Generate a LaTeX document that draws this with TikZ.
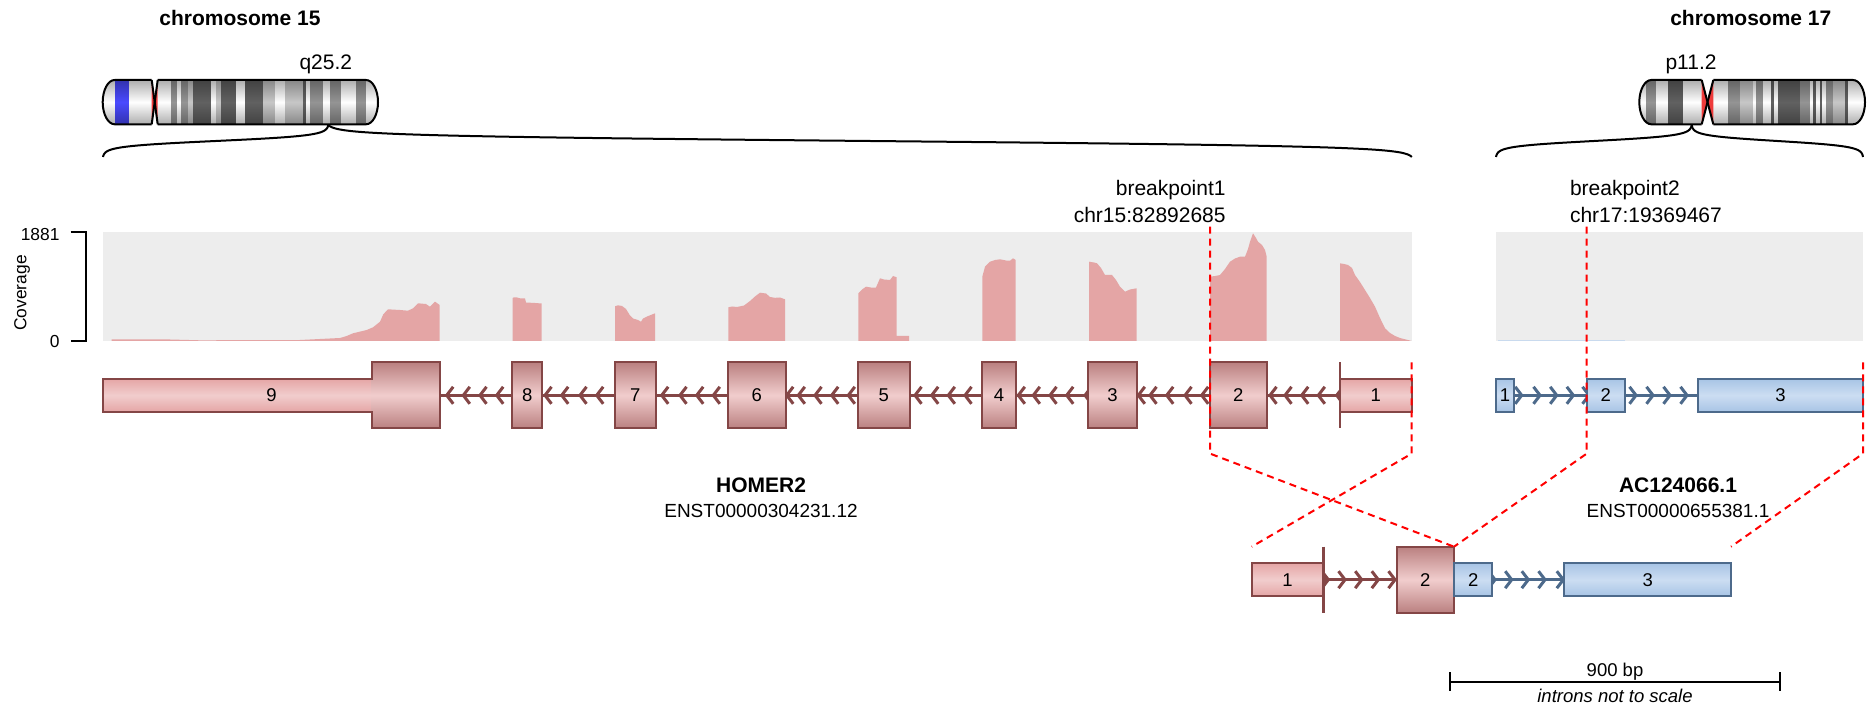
\documentclass[tikz,border=0pt]{standalone}
\usepackage{fontspec}
\setmainfont{Liberation Sans}
\usetikzlibrary{shadings}

\definecolor{pinkbase}{HTML}{E5A5A5}
\definecolor{pinkbright}{HTML}{F1CDCD}
\definecolor{pinkdark}{HTML}{BA8080}
\definecolor{pinkline}{HTML}{844646}
\definecolor{bluebase}{HTML}{A7C4E5}
\definecolor{bluebright}{HTML}{CCDDF2}
\definecolor{blueline}{HTML}{4D6A8B}
\definecolor{covpink}{HTML}{E4A5A5}
\definecolor{covblue}{HTML}{C9DAEE}
\definecolor{panelgray}{HTML}{EDEDED}
\definecolor{gneg}{gray}{1}
\definecolor{gposA}{gray}{0.78}
\definecolor{gposB}{gray}{0.58}
\definecolor{gposC}{gray}{0.38}
\definecolor{stalk}{HTML}{4A4AFF}
\definecolor{acen}{HTML}{EE3B3B}

\newcommand{\mainsize}{\fontsize{10.5}{12.6}\selectfont}
\newcommand{\smallsize}{\fontsize{9.25}{11}\selectfont}
\newcommand{\idsize}{\fontsize{9.5}{11.4}\selectfont}
\newcommand{\axissize}{\fontsize{8.7}{10.4}\selectfont}

% one cytoband between x=#1 and x=#2, darker towards the upper and lower edge
\newcommand{\cband}[3]{\shade[top color=#3!68!black, bottom color=#3!68!black, middle color=#3] (#1,80) rectangle (#2,124.3);}

% half of a curly brace: sigmoid from the tip under the ideogram to the end of the window
\newcommand{\halfbrace}[2]{\draw[braceline] plot[domain=-2.5:2.5, samples=51, smooth] ({#1+(#2-#1)*(1/(1+exp(-2.407*\x))-0.0024)/0.9952}, {141+6.4*\x});}

% intron chevrons (colour, tip x, centre y)
\newcommand{\chevL}[3]{\draw[chev,#1] (#2+6.5,#3-8.5) -- (#2,#3) -- (#2+6.5,#3+8.5);}
\newcommand{\chevR}[3]{\draw[chev,#1] (#2-6.5,#3-8.5) -- (#2,#3) -- (#2-6.5,#3+8.5);}

% exon box as a node: name, style, left x, right x, centre y, number
\newcommand{\exon}[6]{%
  \pgfmathsetmacro{\exonmid}{(#3+#4)/2}%
  \pgfmathsetmacro{\exonwd}{(#4-#3)*0.5}%
  \node[#2, minimum width=\exonwd pt] (#1) at (\exonmid,#5) {#6};}

% centromere bow-tie between x=#1 and x=#2
\newcommand{\centromere}[2]{%
  \fill[acen] (#1,80) -- ({(#1+#2)/2},102.15) -- (#2,80) -- (#2,124.3) -- ({(#1+#2)/2},102.15) -- (#1,124.3) -- cycle;
  \draw[outline] (#1,80) -- ({(#1+#2)/2},102.15) -- (#1,124.3);
  \draw[outline] (#2,80) -- ({(#1+#2)/2},102.15) -- (#2,124.3);}

% ideogram arm outlines, open at the centromere side
\newcommand{\chrApArm}{(151.7,80) -- (114.7,80) .. controls (108.07,80) and (102.7,89.92) .. (102.7,102.15) .. controls (102.7,114.38) and (108.07,124.3) .. (114.7,124.3) -- (151.7,124.3)}
\newcommand{\chrAqArm}{(157.7,80) -- (366,80) .. controls (372.63,80) and (378,89.92) .. (378,102.15) .. controls (378,114.38) and (372.63,124.3) .. (366,124.3) -- (157.7,124.3)}
\newcommand{\chrBpArm}{(1701.7,80) -- (1651.3,80) .. controls (1644.67,80) and (1639.3,89.92) .. (1639.3,102.15) .. controls (1639.3,114.38) and (1644.67,124.3) .. (1651.3,124.3) -- (1701.7,124.3)}
\newcommand{\chrBqArm}{(1713.3,80) -- (1853,80) .. controls (1859.63,80) and (1865,89.92) .. (1865,102.15) .. controls (1865,114.38) and (1859.63,124.3) .. (1853,124.3) -- (1713.3,124.3)}

\pgfdeclarelayer{back}
\pgfsetlayers{back,main}

\begin{document}
\begin{tikzpicture}[x=0.5pt, y=-0.5pt,
  lbl/.style={inner sep=0pt, outer sep=0pt, font=\mainsize},
  axlbl/.style={inner sep=0pt, outer sep=0pt, font=\axissize},
  sclbl/.style={inner sep=0pt, outer sep=0pt, font=\smallsize},
  exbase/.style={rectangle, inner sep=0pt, outer sep=0pt, line width=1pt, font=\smallsize, text=black},
  pcds/.style={exbase, draw=pinkline, top color=pinkdark, bottom color=pinkdark, middle color=pinkbright, minimum height=33pt},
  putr/.style={exbase, draw=pinkline, top color=pinkbase, bottom color=pinkbase, middle color=pinkbright, minimum height=16.7pt},
  butr/.style={exbase, draw=blueline, top color=bluebase, bottom color=bluebase, middle color=bluebright, minimum height=16.7pt},
  exnum/.style={inner sep=0pt, font=\smallsize},
  intron/.style={line width=1.6pt},
  chev/.style={line width=1.5pt, line join=miter, line cap=butt},
  braceline/.style={black, line width=1pt},
  outline/.style={black, line width=1pt},
  bpline/.style={red, line width=1pt, dash pattern=on 3.5pt off 2.5pt},
  axisline/.style={black, line width=1pt},
]
\useasboundingbox (0,0) rectangle (1867,705);
\begin{pgfonlayer}{back}
  \fill[white] (0,0) rectangle (1867,705);
\end{pgfonlayer}

% ---------------- ideogram of chromosome 15 ----------------
\begin{scope}
  \clip \chrApArm -- cycle;
  \cband{100}{115}{gneg}\cband{115}{129.3}{stalk}\cband{129.3}{153}{gneg}
\end{scope}
\begin{scope}
  \clip \chrAqArm -- cycle;
  \cband{156}{171.7}{gneg}\cband{171.7}{177.3}{gposB}\cband{177.3}{181.7}{gneg}
  \cband{181.7}{188.3}{gposB}\cband{188.3}{193.3}{gposA}\cband{193.3}{211.7}{gposC}
  \cband{211.7}{216.7}{gneg}\cband{216.7}{221.7}{gposA}\cband{221.7}{236.7}{gposC}
  \cband{236.7}{245}{gneg}\cband{245}{263.3}{gposC}\cband{263.3}{275}{gposA}
  \cband{275}{285}{gneg}\cband{285}{303.3}{gposA}\cband{303.3}{306}{gposC}
  \cband{306}{310}{gneg}\cband{310}{323.3}{gposB}\cband{323.3}{330.7}{gneg}
  \cband{330.7}{341.7}{gposB}\cband{341.7}{356.7}{gneg}\cband{356.7}{366.7}{gposB}
  \cband{366.7}{380}{gneg}
\end{scope}
\draw[outline] \chrApArm;
\draw[outline] \chrAqArm;
\centromere{151.7}{157.7}

% ---------------- ideogram of chromosome 17 ----------------
\begin{scope}
  \clip \chrBpArm -- cycle;
  \cband{1637}{1646.7}{gneg}\cband{1646.7}{1656.7}{gposB}\cband{1656.7}{1668.3}{gneg}
  \cband{1668.3}{1683.3}{gposC}\cband{1683.3}{1703}{gneg}
\end{scope}
\begin{scope}
  \clip \chrBqArm -- cycle;
  \cband{1712}{1728.3}{gneg}\cband{1728.3}{1740}{gposB}\cband{1740}{1753.3}{gposA}
  \cband{1753.3}{1756.7}{gneg}\cband{1756.7}{1763.3}{gposB}\cband{1763.3}{1771.7}{gneg}
  \cband{1771.7}{1774}{gposC}\cband{1774}{1778.3}{gneg}\cband{1778.3}{1800}{gposC}
  \cband{1800}{1810}{gposB}\cband{1810}{1813.3}{gneg}\cband{1813.3}{1816.7}{gposC}
  \cband{1816.7}{1820}{gneg}\cband{1820}{1822.7}{gposC}\cband{1822.7}{1826.7}{gneg}
  \cband{1826.7}{1833.3}{gposB}\cband{1833.3}{1845}{gposA}\cband{1845}{1848.3}{gposC}
  \cband{1848.3}{1867}{gneg}
\end{scope}
\draw[outline] \chrBpArm;
\draw[outline] \chrBqArm;
\centromere{1701.7}{1713.3}

% titles and band names
\node[lbl, font=\mainsize\bfseries, anchor=base] (chrA) at (240,26) {chromosome 15};
\node[lbl, anchor=base] (bandA) at (325.8,70) {q25.2};
\node[lbl, font=\mainsize\bfseries, anchor=base] (chrB) at (1750.8,26) {chromosome 17};
\node[lbl, anchor=base] (bandB) at (1691,70) {p11.2};

% braces from the band to the gene windows
\halfbrace{328.3}{103}
\halfbrace{328.3}{1412}
\halfbrace{1691.7}{1496}
\halfbrace{1691.7}{1863}

% ---------------- coverage tracks ----------------
\fill[panelgray] (103,232.3) rectangle (1411.7,341);
\fill[panelgray] (1496,232.3) rectangle (1863,341);

\fill[covpink] (111.7,341) -- (111.7,339.5) -- (170,339.5) -- (200,340.3) -- (300,340) -- (320,339) -- (340,338) -- (346.7,336) -- (353,333.3) -- (366.7,330) -- (373,327.3) -- (380,321.7) -- (383.3,314.3) -- (388,309.3) -- (400,310) -- (408,310.7) -- (413,308.3) -- (418,303.3) -- (426,304) -- (430,306.7) -- (435,301.7) -- (439.7,305) -- (439.7,341) -- cycle;
\fill[covpink] (512.7,341) -- (512.7,298) -- (514,297.3) -- (517,297.5) -- (520,298.3) -- (525,298.5) -- (526,302.5) -- (535,303) -- (541.7,303.5) -- (541.7,341) -- cycle;
\fill[covpink] (615,341) -- (615,306.3) -- (618,305.3) -- (622,306) -- (626,309) -- (630,315.5) -- (633,318.5) -- (638,320) -- (641,321.7) -- (643,318.5) -- (647,316.5) -- (652,314.5) -- (655,313.3) -- (655,341) -- cycle;
\fill[covpink] (728.3,341) -- (728.3,307.3) -- (732,306.5) -- (737,307) -- (744,305.5) -- (750,301) -- (755,296.5) -- (760,292.7) -- (766,293.5) -- (770,297) -- (775,297.8) -- (780,297.5) -- (785,299.3) -- (785,341) -- cycle;
\fill[covpink] (858.3,341) -- (858.3,293.3) -- (862,289.5) -- (866,286.7) -- (872,287.7) -- (876,287.5) -- (880,278.3) -- (884,279.5) -- (890,280) -- (893,276) -- (896.7,277.3) -- (896.7,336) -- (909,336) -- (909,341) -- cycle;
\fill[covpink] (982.3,341) -- (982.3,276.7) -- (985,266.7) -- (990,261.7) -- (995,260) -- (1000,259.3) -- (1006,260.5) -- (1010,260.7) -- (1013,258.3) -- (1015.7,260) -- (1015.7,341) -- cycle;
\fill[covpink] (1089,341) -- (1089,261.7) -- (1094,262.5) -- (1097,263.3) -- (1101,268) -- (1105,275) -- (1112,275) -- (1116,280) -- (1120,286.7) -- (1125,291.7) -- (1130,289.5) -- (1136.7,288.3) -- (1136.7,341) -- cycle;
\fill[covpink] (1210,341) -- (1210,276.7) -- (1215,276) -- (1220,275) -- (1225,269) -- (1230,261.7) -- (1235,258.5) -- (1240,256.7) -- (1245,256.7) -- (1248,249) -- (1250,241.7) -- (1253,233.3) -- (1256,238) -- (1258,241.7) -- (1262,245) -- (1265,250) -- (1266.7,256.7) -- (1266.7,341) -- cycle;
\fill[covpink] (1340,341) -- (1340,263.3) -- (1344,264) -- (1348,265) -- (1352,268) -- (1355,275) -- (1360,282) -- (1365,290) -- (1370,298) -- (1375,306.7) -- (1380,318) -- (1385,328.3) -- (1390,333) -- (1395,336) -- (1400,338) -- (1405,339.3) -- (1411.7,341) -- cycle;
\fill[covblue] (1498,340) rectangle (1625,341);

% coverage axis
\draw[axisline] (70.7,232.3) -- (86,232.3) -- (86,340.7) -- (70.7,340.7);
\node[axlbl, anchor=east] (ymax) at (59.5,235) {1881};
\node[axlbl, anchor=east] (ymin) at (59.5,341.5) {0};
\node[axlbl, rotate=90] (ylab) at (22,293) {Coverage};

% breakpoint labels
\node[lbl, anchor=base east] (bpAa) at (1225.6,196) {breakpoint1};
\node[lbl, anchor=base east] (bpAb) at (1225.6,222.3) {chr15:82892685};
\node[lbl, anchor=base west] (bpBa) at (1570,196) {breakpoint2};
\node[lbl, anchor=base west] (bpBb) at (1570,222.3) {chr17:19369467};

% ---------------- HOMER2 transcript (minus strand) ----------------
\shade[top color=pinkbase, bottom color=pinkbase, middle color=pinkbright] (102.7,378.6) rectangle (371.7,412);
\shade[top color=pinkdark, bottom color=pinkdark, middle color=pinkbright] (371.7,362.3) rectangle (440,428.3);
\draw[pinkline, line width=1pt] (102.7,378.6) -- (371.7,378.6) -- (371.7,362.3) -- (440,362.3) -- (440,428.3) -- (371.7,428.3) -- (371.7,412) -- (102.7,412) -- cycle;
\node[exnum] (h9) at (271.5,395.3) {9};
\coordinate (h9e) at (440,395.3);
\exon{h8}{pcds}{512.3}{542.3}{395.3}{8}
\exon{h7}{pcds}{614.7}{656}{395.3}{7}
\exon{h6}{pcds}{727.7}{785.7}{395.3}{6}
\exon{h5}{pcds}{857.7}{909.7}{395.3}{5}
\exon{h4}{pcds}{981.7}{1016.3}{395.3}{4}
\exon{h3}{pcds}{1088.3}{1136.7}{395.3}{3}
\exon{h2}{pcds}{1210}{1266.7}{395.3}{2}
\exon{h1}{putr}{1340}{1411.7}{395.3}{1}
\draw[pinkline, line width=1.2pt] (h1.west) ++(0,-33) -- ++(0,66);

% ---------------- AC124066.1 transcript (plus strand) ----------------
\exon{a1}{butr}{1495.7}{1514.3}{395.3}{1}
\exon{a2}{butr}{1586.7}{1625}{395.3}{2}
\exon{a3}{butr}{1697.7}{1863.3}{395.3}{3}

\node[lbl, font=\mainsize\bfseries, anchor=base] (gA) at (761,492.5) {HOMER2};
\node[lbl, font=\idsize, anchor=base] (tA) at (761,517.5) {ENST00000304231.12};
\node[lbl, font=\mainsize\bfseries, anchor=base] (gB) at (1678,492.5) {AC124066.1};
\node[lbl, font=\idsize, anchor=base] (tB) at (1678,517.5) {ENST00000655381.1};

% ---------------- fusion transcript ----------------
\exon{f1}{putr}{1251.7}{1323.3}{579.7}{1}
\exon{f2}{pcds}{1396.7}{1454}{579.7}{2}
\exon{g2}{butr}{1454}{1492.3}{579.7}{2}
\exon{g3}{butr}{1564.3}{1731}{579.7}{3}
\draw[pinkline, line width=1.2pt] (f1.east) ++(0,-33) -- ++(0,66);

% introns with direction chevrons, behind the exons
\begin{pgfonlayer}{back}
  \draw[intron, pinkline] (h9e) -- (h1.west);
  \draw[intron, blueline] (a1.east) -- (a3.west);
  \draw[intron, pinkline] (f1.east) -- (f2.west);
  \draw[intron, blueline] (g2.east) -- (g3.west);
  \foreach \t in {446.7,463.3,480,496.7, 545,561.7,580,596.7, 661.7,680,696.7,713.3,
                  786.7,798.3,815,831.7,848.3, 915,931.7,948.3,965,
                  1018.3,1033.3,1050,1066.7,1085, 1138.3,1150,1166.7,1185,1201.7,
                  1270,1285,1301.7,1318.3,1336.7}
    {\chevL{pinkline}{\t}{395.3}}
  \foreach \t in {1521.7,1540,1556.7,1573.3,1589, 1636,1653,1670,1687}
    {\chevR{blueline}{\t}{395.3}}
  \foreach \t in {1328.3,1345,1361.7,1378.3,1395}
    {\chevR{pinkline}{\t}{579.7}}
  \foreach \t in {1495,1511.7,1528.3,1545,1563.3}
    {\chevR{blueline}{\t}{579.7}}
\end{pgfonlayer}

% ---------------- breakpoint projections ----------------
\coordinate (bpAtop) at (1210,226.7);
\coordinate (bpAbend) at (1210,453.6);
\coordinate (exAtop) at (1411.7,362.3);
\coordinate (exAbend) at (1411.7,453.6);
\coordinate (bpBtop) at (1586.7,226.7);
\coordinate (bpBbend) at (1586.7,453.6);
\coordinate (exBtop) at (1863,362.3);
\coordinate (exBbend) at (1863,453.6);
\coordinate (fuLeft) at (1251.7,546.7);
\coordinate (fuJoin) at (1454,546.7);
\coordinate (fuRight) at (1731,546.7);
\draw[bpline] (bpAtop) -- (bpAbend) -- (fuJoin);
\draw[bpline] (exAtop) -- (exAbend) -- (fuLeft);
\draw[bpline] (bpBtop) -- (bpBbend) -- (fuJoin);
\draw[bpline] (exBtop) -- (exBbend) -- (fuRight);

% ---------------- scale bar ----------------
\coordinate (sbL) at (1450,681.7);
\coordinate (sbR) at (1780,681.7);
\draw[axisline] (sbL) -- (sbR);
\draw[axisline] (sbL) ++(0,-9.5) -- ++(0,19);
\draw[axisline] (sbR) ++(0,-9.5) -- ++(0,19);
\node[sclbl, anchor=base] (scA) at (1615,676) {900 bp};
\node[sclbl, anchor=base, font=\smallsize\itshape] (scB) at (1615,702) {introns not to scale};
\end{tikzpicture}
\end{document}
